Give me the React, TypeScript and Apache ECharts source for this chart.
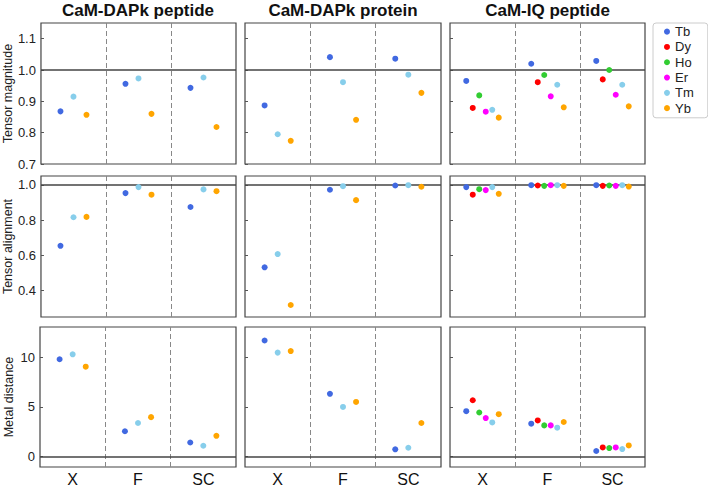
import React, { useEffect, useRef } from 'react';
import * as echarts from 'echarts';

const categories = ['X', 'F', 'SC'];
const panelTitles = ['CaM-DAPk peptide', 'CaM-DAPk protein', 'CaM-IQ peptide'];
const rowNames = ['Tensor magnitude', 'Tensor alignment', 'Metal distance'];
const elementsDapk = ['Tb', 'Tm', 'Yb'];
const elementsIq = ['Tb', 'Dy', 'Ho', 'Er', 'Tm', 'Yb'];
const legendNames = ['Tb', 'Dy', 'Ho', 'Er', 'Tm', 'Yb'];
const legendColors = ['#4169e1', '#ff0000', '#32cd32', '#ff00ff', '#87ceeb', '#ffa500'];

// values per element (rows) across categories X, F, SC (columns)
const magDapkPeptide = [
  [0.868, 0.956, 0.943],
  [0.915, 0.973, 0.976],
  [0.857, 0.86, 0.818],
];
const magDapkProtein = [
  [0.887, 1.041, 1.036],
  [0.795, 0.961, 0.985],
  [0.774, 0.841, 0.927],
];
const magIqPeptide = [
  [0.965, 1.02, 1.029],
  [0.879, 0.961, 0.97],
  [0.919, 0.984, 1.0],
  [0.867, 0.916, 0.921],
  [0.873, 0.953, 0.953],
  [0.848, 0.881, 0.884],
];

const alignDapkPeptide = [
  [0.654, 0.953, 0.874],
  [0.816, 0.987, 0.974],
  [0.818, 0.944, 0.964],
];
const alignDapkProtein = [
  [0.532, 0.972, 0.996],
  [0.607, 0.992, 0.998],
  [0.318, 0.913, 0.989],
];
const alignIqPeptide = [
  [0.987, 0.998, 0.998],
  [0.944, 0.996, 0.994],
  [0.975, 0.994, 0.996],
  [0.97, 0.998, 0.994],
  [0.987, 0.998, 0.998],
  [0.949, 0.994, 0.99],
];

const distDapkPeptide = [
  [9.8, 2.55, 1.42],
  [10.3, 3.38, 1.09],
  [9.05, 3.97, 2.09],
];
const distDapkProtein = [
  [11.69, 6.32, 0.73],
  [10.47, 5.0, 0.89],
  [10.63, 5.5, 3.38],
];
const distIqPeptide = [
  [4.57, 3.31, 0.56],
  [5.67, 3.64, 0.92],
  [4.44, 3.14, 0.86],
  [3.88, 3.14, 0.92],
  [3.44, 2.91, 0.76],
  [4.27, 3.48, 1.12],
];

const magTicks = [0.7, 0.8, 0.9, 1.0, 1.1];
const alignTicks = [0.4, 0.6, 0.8, 1.0];
const distTicks = [0, 5, 10];

const rowRanges = [
  [0.7, 1.15],
  [0.25, 1.05],
  [-1.05, 13.05],
];
const rowRefs = [1.0, 1.0, 0];
const rowTicks = [magTicks, alignTicks, distTicks];
const rowDecimals = [1, 1, 0];

const panelData = [
  [magDapkPeptide, magDapkProtein, magIqPeptide],
  [alignDapkPeptide, alignDapkProtein, alignIqPeptide],
  [distDapkPeptide, distDapkProtein, distIqPeptide],
];
const panelElements = [elementsDapk, elementsDapk, elementsIq];

const FONT = '"Liberation Sans", Arial, Helvetica, sans-serif';

export default function App() {
  const ref = useRef<HTMLDivElement>(null);
  useEffect(() => {
    if (!ref.current) return;
    const chart = echarts.init(ref.current, null, { renderer: 'svg' });
    const colLefts = [40, 245, 450];
    const colWidths = [196, 196, 195];
    const rowTops = [23, 176, 327];
    const rowHeights = [141, 141, 142];

    const grids: any[] = [];
    const xAxes: any[] = [];
    const yAxes: any[] = [];
    const series: any[] = [];

    for (let r = 0; r < 3; r++) {
      for (let c = 0; c < 3; c++) {
        const gi = r * 3 + c;
        grids.push({
          left: colLefts[c],
          top: rowTops[r],
          width: colWidths[c],
          height: rowHeights[r],
          show: true,
          borderColor: '#444',
          borderWidth: 1.2,
          backgroundColor: 'transparent',
        });
        xAxes.push({
          type: 'value',
          gridIndex: gi,
          min: -0.5,
          max: 2.5,
          show: false,
          axisLine: { onZero: false },
        });
        const ticks = rowTicks[r];
        yAxes.push({
          type: 'value',
          gridIndex: gi,
          position: 'left',
          min: rowRanges[r][0],
          max: rowRanges[r][1],
          name: c === 0 ? rowNames[r] : '',
          nameLocation: 'middle',
          nameRotate: 90,
          nameGap: 25,
          nameTextStyle: { fontSize: 12.5, color: '#222', fontFamily: FONT },
          axisLine: { show: false, onZero: false },
          splitLine: { show: false },
          axisTick: {
            show: true,
            inside: true,
            length: 3,
            lineStyle: { color: '#555' },
            customValues: ticks,
          },
          axisLabel: {
            show: c === 0,
            customValues: ticks,
            fontSize: 13,
            color: '#222',
            fontFamily: FONT,
            margin: 5,
            formatter: (v: number) => v.toFixed(rowDecimals[r]),
          },
        });

        const els = panelElements[c];
        const vals = panelData[r][c];
        const n = els.length;
        const step = n > 3 ? 0.1 : 0.2;
        els.forEach((el, i) => {
          const off = (i - (n - 1) / 2) * step;
          const color = legendColors[legendNames.indexOf(el)];
          const s: any = {
            type: 'scatter',
            name: el,
            xAxisIndex: gi,
            yAxisIndex: gi,
            symbolSize: 6,
            itemStyle: { color, opacity: 1 },
            z: 5,
            data: vals[i].map((v, k) => [k + off, v]),
          };
          if (i === 0) {
            s.markLine = {
              silent: true,
              symbol: 'none',
              animation: false,
              label: { show: false },
              z: 1,
              data: [
                { xAxis: 0.5, lineStyle: { type: [5, 3], color: '#888', width: 1 } },
                { xAxis: 1.5, lineStyle: { type: [5, 3], color: '#888', width: 1 } },
                { yAxis: rowRefs[r], lineStyle: { type: 'solid', color: '#444', width: 1.5 } },
              ],
            };
          }
          series.push(s);
        });
      }
    }
    // category label axes for bottom row
    for (let c = 0; c < 3; c++) {
      xAxes.push({
        type: 'category',
        gridIndex: 6 + c,
        data: categories,
        position: 'bottom',
        boundaryGap: true,
        axisLine: { show: false, onZero: false },
        axisTick: { show: false },
        splitLine: { show: false },
        axisLabel: { fontSize: 16, color: '#111', fontFamily: FONT, margin: 4 },
      });
    }

    const graphic = panelTitles.map((t, c) => ({
      type: 'text',
      x: colLefts[c] + colWidths[c] / 2,
      y: 10,
      style: {
        text: t,
        fill: '#111',
        font: `bold 17px ${FONT}`,
        textAlign: 'center',
        textVerticalAlign: 'middle',
      },
    }));

    chart.setOption({
      animation: false,
      backgroundColor: '#fff',
      textStyle: { fontFamily: FONT },
      grid: grids,
      xAxis: xAxes,
      yAxis: yAxes,
      series,
      graphic,
      legend: {
        data: legendNames.map((nm, i) => ({ name: nm, itemStyle: { color: legendColors[i] } })),
        orient: 'vertical',
        left: 653,
        top: 23,
        icon: 'circle',
        itemWidth: 6,
        itemHeight: 6,
        itemGap: 0,
        itemTextGap: 15,
        padding: [1, 14, 2, 11],
        backgroundColor: '#fff',
        borderColor: '#ccc',
        borderWidth: 1,
        borderRadius: 3,
        selectedMode: false,
        textStyle: { fontSize: 13, color: '#222', fontFamily: FONT, lineHeight: 15.3 },
      },
    });
    return () => chart.dispose();
  }, []);
  return (
    <div
      ref={ref}
      style={{ position: 'absolute', left: 0, top: 0, width: 708, height: 487 }}
    />
  );
}
